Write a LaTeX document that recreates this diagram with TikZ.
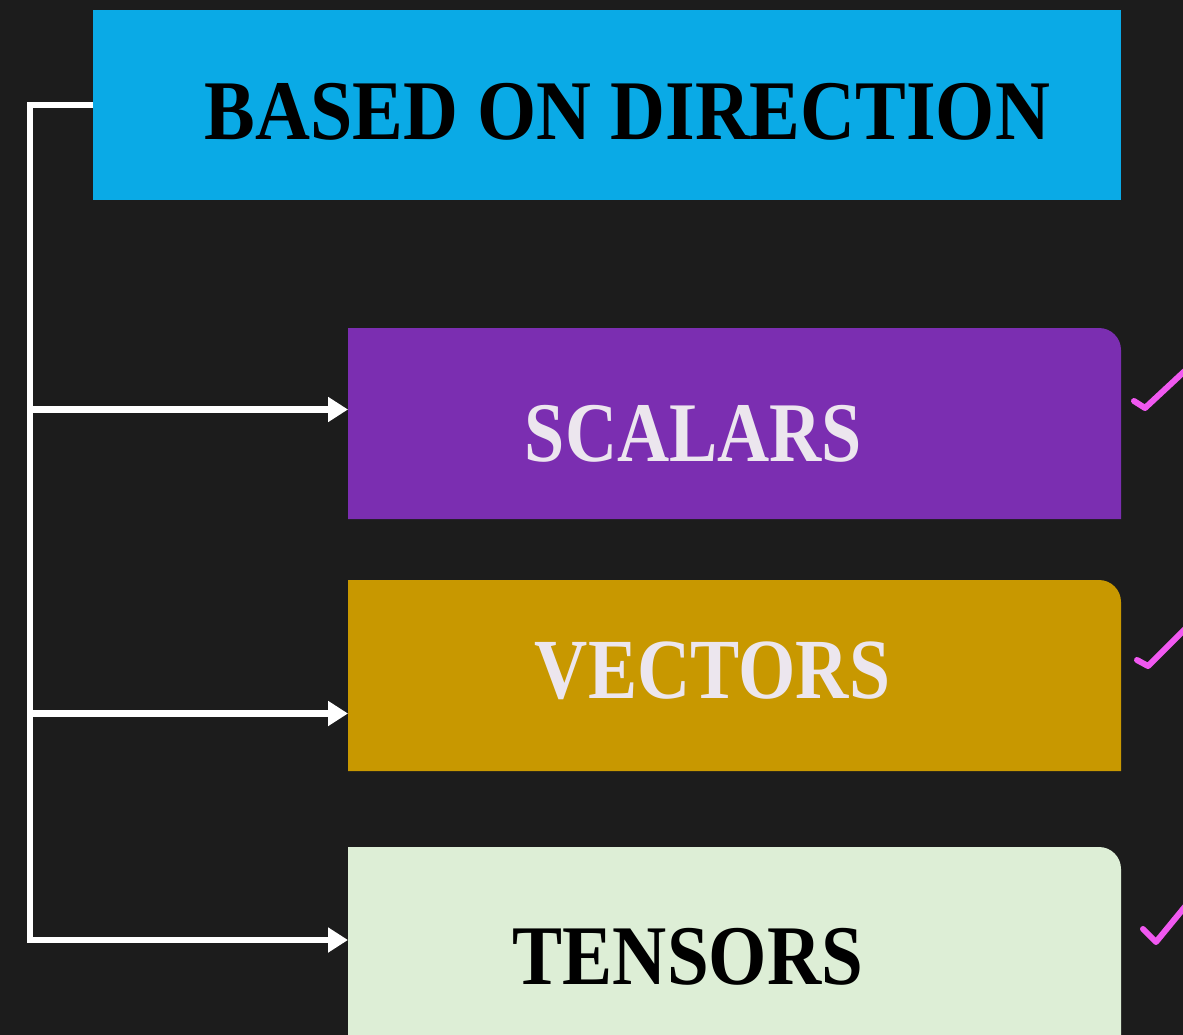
\documentclass[tikz,border=0pt]{standalone}
\usepackage{fontspec}
\setmainfont{Liberation Serif}
\usepackage{graphicx}
\usetikzlibrary{arrows.meta}
\definecolor{bgc}{HTML}{1C1C1C}
\definecolor{topc}{HTML}{0AAAE6}
\definecolor{scc}{HTML}{7B2EB1}
\definecolor{vec}{HTML}{C89800}
\definecolor{tec}{HTML}{DDEED6}
\definecolor{lighttext}{HTML}{ECE6EE}
\definecolor{tickc}{HTML}{F058F0}
\tikzset{
  boxnode/.style={inner sep=0pt, outer sep=0pt, draw=none, minimum width=773pt},
  txt/.style={inner sep=0pt, outer sep=0pt},
  conn/.style={draw=white, line width=6.5pt, line join=miter},
  arr/.style={conn, -{Triangle[length=20pt,width=24pt]}},
  tick/.style={draw=tickc, line width=6pt, line cap=round, line join=round},
}
\begin{document}
\begin{tikzpicture}[x=1pt,y=-1pt]
\fill[bgc] (0,0) rectangle (1183,1035);
\useasboundingbox (0,0) rectangle (1183,1035);

% boxes
\node[boxnode, minimum width=1028pt, minimum height=190pt, fill=topc] (top) at (607,105) {};
\node[boxnode, minimum height=191pt] (sc) at (734.5,423.5) {};
\node[boxnode, minimum height=191pt] (ve) at (734.5,675.5) {};
\node[boxnode, minimum height=193pt] (te) at (734.5,943.5) {};

\fill[scc] (sc.south west) -- (sc.north west) [rounded corners=22pt] -- (sc.north east) [sharp corners] -- (sc.south east) -- cycle;
\fill[vec] (ve.south west) -- (ve.north west) [rounded corners=22pt] -- (ve.north east) [sharp corners] -- (ve.south east) -- cycle;
\fill[tec] (te.south west) -- (te.north west) [rounded corners=22pt] -- (te.north east) [sharp corners] -- (te.south east) -- cycle;

% texts
\node[txt] (ttop) at (627.5,111.5) {\resizebox*{845pt}{57pt}{\textbf{BASED ON DIRECTION}}};
\node[txt, text=lighttext] (tsc) at (693.5,433.5) {\resizebox*{337pt}{57pt}{\textbf{SCALARS}}};
\node[txt, text=lighttext] (tve) at (712.5,671) {\resizebox*{355pt}{58pt}{\textbf{VECTORS}}};
\node[txt, text=black] (tte) at (688,956.5) {\resizebox*{350pt}{57pt}{\textbf{TENSORS}}};

% connectors
\coordinate (trunk) at (30,940);
\coordinate (insc) at ([yshift=14pt]sc.west);
\coordinate (inve) at ([yshift=-38pt]ve.west);
\draw[arr] (top.west) -| (trunk) -- (trunk -| te.west);
\draw[arr] (trunk |- insc) -- (insc);
\draw[arr] (trunk |- inve) -- (inve);

% ticks
\draw[tick] (1134,401) -- (1145,408) -- (1188,368);
\draw[tick] (1137,660) -- (1148,666) -- (1186,628);
\draw[tick] (1143,929) -- (1156,942) -- (1188,903);
\end{tikzpicture}
\end{document}
